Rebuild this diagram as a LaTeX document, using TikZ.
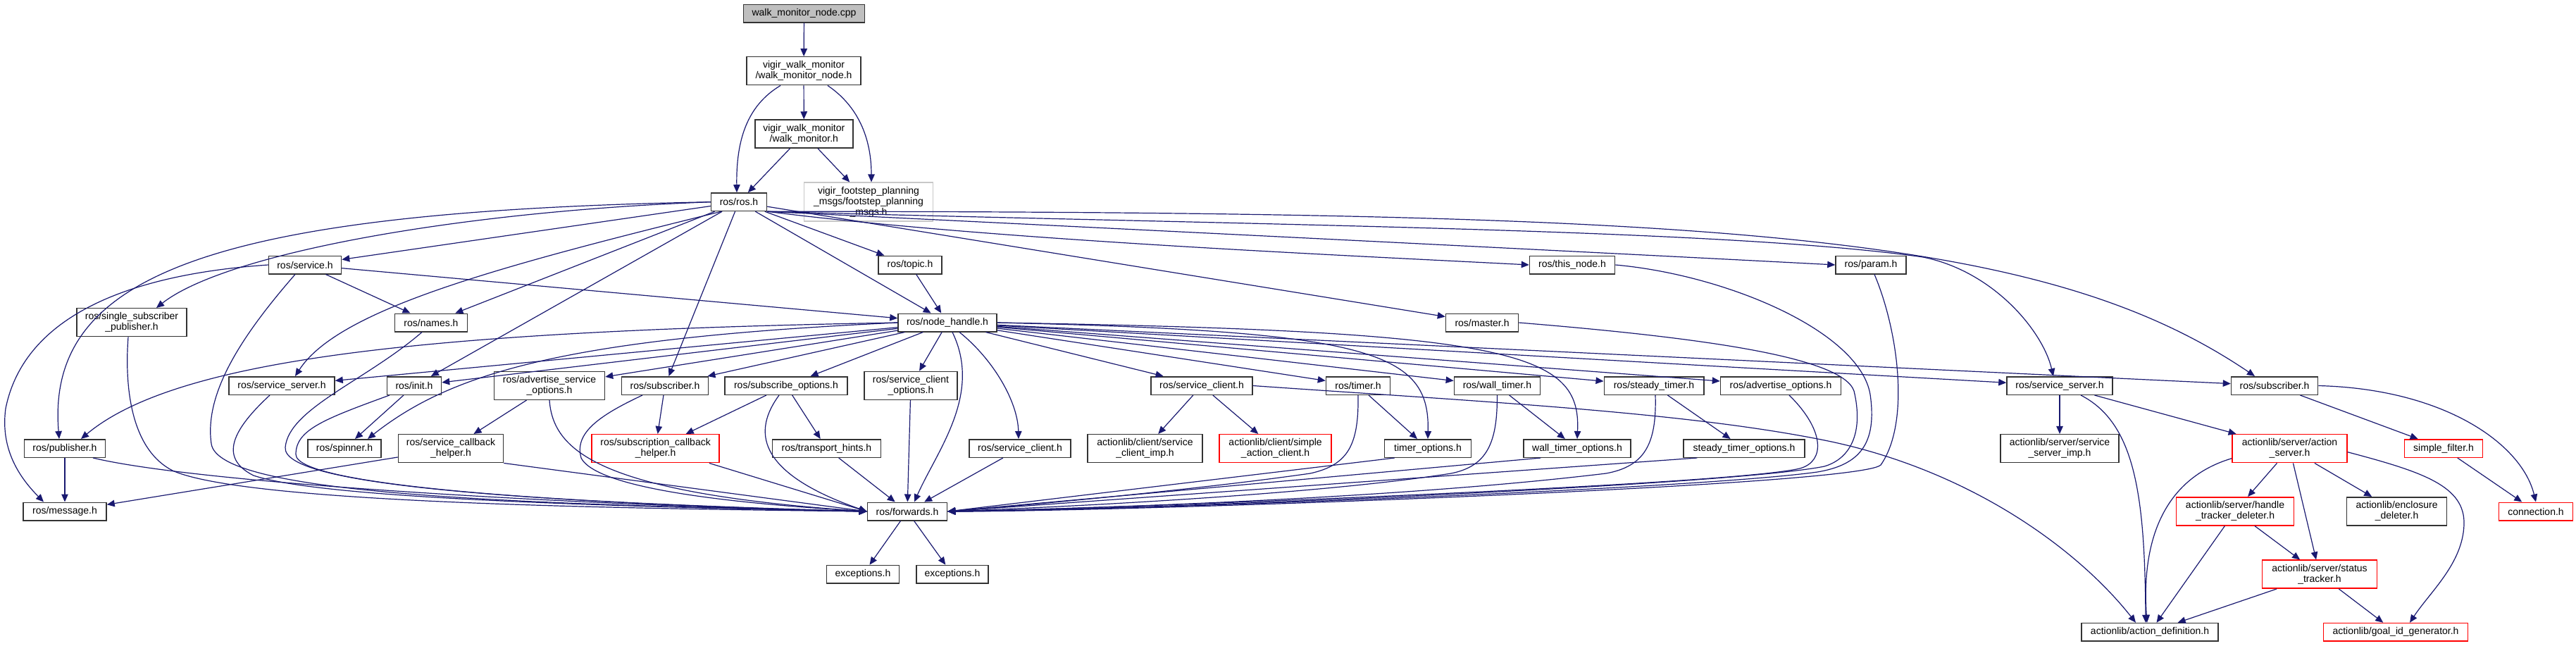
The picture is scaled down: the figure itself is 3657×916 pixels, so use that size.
\documentclass[tikz,border=0pt]{standalone}
\usepackage{fontspec}
\setmainfont{Liberation Sans}
\usepackage{tikz}
\usetikzlibrary{arrows.meta}

\definecolor{edgeblue}{HTML}{191970}
\definecolor{framegray}{HTML}{333333}
\definecolor{rootgray}{HTML}{BFBFBF}
\definecolor{lightframe}{HTML}{C8C8C8}

\begin{document}
\begin{tikzpicture}[x=1pt,y=-1pt,
    every node/.style={rectangle,inner sep=2pt,align=center,
      font=\fontsize{14}{15}\selectfont},
    hfile/.style={draw=framegray,line width=1.5pt,minimum height=25.5pt},
    hfiletwo/.style={hfile,minimum height=40pt},
    redfile/.style={draw=red,line width=1.5pt,minimum height=25.5pt},
    redfiletwo/.style={redfile,minimum height=40pt},
    dep/.style={draw=edgeblue,line width=1.2pt,-{Triangle[length=11pt,width=9.5pt]}}]

  \useasboundingbox (0,0) rectangle (3657,916);

  % top of the graph
  \node[hfile,fill=rootgray,minimum width=172pt] (cpp) at (1141.5,19) {walk\_monitor\_node.cpp};
  \node[hfiletwo,minimum width=162pt] (wmnode) at (1141,100.7) {vigir\_walk\_monitor\\/walk\_monitor\_node.h};
  \node[hfiletwo,minimum width=139pt] (wmon) at (1141.3,190) {vigir\_walk\_monitor\\/walk\_monitor.h};
  \node[hfile,draw=lightframe,minimum width=183pt,minimum height=55pt] (fsmsgs) at (1233,286.7) {vigir\_footstep\_planning\\\_msgs/footstep\_planning\\\_msgs.h};
  \node[hfile,minimum width=79pt] (ros) at (1049,286.7) {ros/ros.h};

  % ros.h level
  \node[hfile,minimum width=103pt] (service) at (433,376) {ros/service.h};
  \node[hfile,minimum width=90pt] (topic) at (1292,376) {ros/topic.h};
  \node[hfile,minimum width=121pt] (thisnode) at (2232,376) {ros/this\_node.h};
  \node[hfile,minimum width=100pt] (param) at (2656,376) {ros/param.h};
  \node[hfiletwo,minimum width=156pt] (single) at (187,457.7) {ros/single\_subscriber\\\_publisher.h};
  \node[hfile,minimum width=103pt] (names) at (612,458) {ros/names.h};
  \node[hfile,minimum width=140pt] (nh) at (1345,458) {ros/node\_handle.h};
  \node[hfile,minimum width=103pt] (master) at (2104,458) {ros/master.h};

  % node_handle.h level
  \node[hfile,minimum width=150pt] (srvserverL) at (400,547.5) {ros/service\_server.h};
  \node[hfile,minimum width=77pt] (init) at (588,547.5) {ros/init.h};
  \node[hfiletwo,minimum width=157pt] (advsrvopt) at (780,547.3) {ros/advertise\_service\\\_options.h};
  \node[hfile,minimum width=123pt] (subL) at (944,547.5) {ros/subscriber.h};
  \node[hfile,minimum width=174pt] (subopt) at (1116,547.5) {ros/subscribe\_options.h};
  \node[hfiletwo,minimum width=132pt] (srvcliopt) at (1293,547.3) {ros/service\_client\\\_options.h};
  \node[hfile,minimum width=144pt] (srvcliU) at (1706,547.5) {ros/service\_client.h};
  \node[hfile,minimum width=91pt] (timer) at (1928,547.5) {ros/timer.h};
  \node[hfile,minimum width=122pt] (walltimer) at (2125.4,547.5) {ros/wall\_timer.h};
  \node[hfile,minimum width=141.5pt] (steadytimer) at (2348,547.5) {ros/steady\_timer.h};
  \node[hfile,minimum width=171pt] (advopt) at (2528,547.5) {ros/advertise\_options.h};
  \node[hfile,minimum width=150pt] (srvserverR) at (2924,547.5) {ros/service\_server.h};
  \node[hfile,minimum width=123pt] (subR) at (3229,547.5) {ros/subscriber.h};

  % helpers and options
  \node[hfile,minimum width=115pt] (publisher) at (92,636.5) {ros/publisher.h};
  \node[hfile,minimum width=104pt] (spinner) at (489,636.5) {ros/spinner.h};
  \node[hfiletwo,minimum width=149pt] (srvcb) at (640,636.7) {ros/service\_callback\\\_helper.h};
  \node[redfiletwo,minimum width=181pt] (subcb) at (930.6,636.7) {ros/subscription\_callback\\\_helper.h};
  \node[hfile,minimum width=154pt] (transport) at (1173.4,636.5) {ros/transport\_hints.h};
  \node[hfile,minimum width=144pt] (srvcliL) at (1448,636.5) {ros/service\_client.h};
  \node[hfiletwo,minimum width=163pt] (srvcliimp) at (1625.5,636.7) {actionlib/client/service\\\_client\_imp.h};
  \node[redfiletwo,minimum width=159pt] (simpleac) at (1810.6,636.7) {actionlib/client/simple\\\_action\_client.h};
  \node[hfile,minimum width=123pt] (timeropt) at (2027,636.5) {timer\_options.h};
  \node[hfile,minimum width=152pt] (walltimeropt) at (2239,636.5) {wall\_timer\_options.h};
  \node[hfile,minimum width=172pt] (steadytimeropt) at (2476,636.5) {steady\_timer\_options.h};
  \node[hfiletwo,minimum width=168pt] (srvserverimp) at (2924,636.7) {actionlib/server/service\\\_server\_imp.h};
  \node[redfiletwo,minimum width=163pt] (actionserver) at (3250.5,636.7) {actionlib/server/action\\\_server.h};
  \node[redfile,minimum width=111pt] (simplefilter) at (3469,636.5) {simple\_filter.h};

  % bottom rows
  \node[hfile,minimum width=118pt] (message) at (92,726) {ros/message.h};
  \node[hfile,minimum width=113pt] (forwards) at (1288,726) {ros/forwards.h};
  \node[redfiletwo,minimum width=167pt] (handletracker) at (3173,725.8) {actionlib/server/handle\\\_tracker\_deleter.h};
  \node[hfiletwo,minimum width=142pt] (enclosure) at (3402.6,725.8) {actionlib/enclosure\\\_deleter.h};
  \node[redfile,minimum width=105pt] (connection) at (3600,726) {connection.h};
  \node[hfile,minimum width=103pt] (excL) at (1225,815.2) {exceptions.h};
  \node[hfile,minimum width=102pt] (excR) at (1352,815.2) {exceptions.h};
  \node[redfiletwo,minimum width=163pt] (statustracker) at (3293,815.2) {actionlib/server/status\\\_tracker.h};
  \node[hfile,minimum width=194pt] (actiondef) at (3052,897.3) {actionlib/action\_definition.h};
  \node[redfile,minimum width=205pt] (goalid) at (3401,897.3) {actionlib/goal\_id\_generator.h};

  % walk monitor includes
  \draw[dep] (cpp) -- (wmnode);
  \draw[dep] (wmnode) -- (wmon);
  \draw[dep] (wmon) -- (ros);
  \draw[dep] (wmon) -- (fsmsgs);
  \draw[dep] ([xshift=-33pt]wmnode.south) .. controls (1060,150) and (1045,200) .. ([xshift=-3pt]ros.north);
  \draw[dep] ([xshift=34pt]wmnode.south) .. controls (1232,160) and (1237,220) .. ([xshift=4pt]fsmsgs.north);

  % ros.h
  \draw[dep] (ros) -- (service);
  \draw[dep] (ros) -- (names);
  \draw[dep] (ros) -- (init);
  \draw[dep] (ros) -- (subL);
  \draw[dep] (ros) -- (nh);
  \draw[dep] (ros) -- (topic);
  \draw[dep] (ros) -- (master);
  \draw[dep] (ros.west) .. controls (650,300) and (320,360) .. ([xshift=35pt]single.north);
  \draw[dep] (ros.west) .. controls (300,300) and (65,390) .. ([xshift=-8pt]publisher.north);
  \draw[dep] ([xshift=-25pt]ros.south) .. controls (700,380) and (480,440) .. ([xshift=19pt]srvserverL.north);
  \draw[dep] (ros.south east) .. controls (1400,340) and (1900,362) .. (thisnode.west);
  \draw[dep] (ros.south east) .. controls (1700,330) and (2300,360) .. (param.west);
  \draw[dep] (ros.south east) .. controls (1800,320) and (2450,325) .. (2730,365) .. controls (2830,385) and (2900,470) .. ([xshift=-9pt]srvserverR.north);
  \draw[dep] (ros.south east) .. controls (2450,300) and (2900,330) .. ([xshift=-28pt]subR.north);

  % service.h and topic.h
  \draw[dep] (topic) -- (nh);
  \draw[dep] (service) -- (names);
  \draw[dep] (service) -- (nh);
  \draw[dep] (service.west) .. controls (250,385) and (40,420) .. (8,580) .. controls (0,640) and (30,680) .. ([xshift=-30pt]message.north);

  % node_handle.h
  \draw[dep] (nh) -- (srvserverL);
  \draw[dep] (nh) -- (init);
  \draw[dep] (nh) -- (advsrvopt);
  \draw[dep] (nh) -- (subL);
  \draw[dep] (nh) -- (subopt);
  \draw[dep] (nh) -- (srvcliopt);
  \draw[dep] (nh) -- (srvcliU);
  \draw[dep] (nh) -- (timer);
  \draw[dep] (nh) -- (walltimer);
  \draw[dep] (nh) -- (steadytimer);
  \draw[dep] (nh) -- (advopt);
  \draw[dep] (nh) -- (srvserverR);
  \draw[dep] (nh) -- (subR);
  \draw[dep] (nh.west) .. controls (600,470) and (250,510) .. ([xshift=23pt]publisher.north);
  \draw[dep] (nh.west) .. controls (800,480) and (640,530) .. ([xshift=33pt]spinner.north);
  \draw[dep] ([xshift=17pt]nh.south) .. controls (1410,510) and (1445,570) .. ([xshift=-2pt]srvcliL.north);
  \draw[dep] (nh.east) .. controls (1950,470) and (2030,500) .. (timeropt.north);
  \draw[dep] (nh.east) .. controls (2150,470) and (2245,500) .. (walltimeropt.north);

  % second level
  \draw[dep] (init) -- (spinner);
  \draw[dep] (advsrvopt) -- (srvcb);
  \draw[dep] (subL) -- (subcb);
  \draw[dep] (subopt) -- (subcb);
  \draw[dep] (subopt) -- (transport);
  \draw[dep] (srvcliU) -- (srvcliimp);
  \draw[dep] (srvcliU) -- (simpleac);
  \draw[dep] (timer) -- (timeropt);
  \draw[dep] (walltimer) -- (walltimeropt);
  \draw[dep] (steadytimer) -- (steadytimeropt);
  \draw[dep] (srvserverR) -- (srvserverimp);
  \draw[dep] (srvserverR) -- (actionserver);
  \draw[dep] (subR) -- (simplefilter);
  \draw[dep] (simplefilter) -- (connection);
  \draw[dep] (publisher) -- (message);
  \draw[dep] (srvcb) -- (message);
  \draw[dep] (srvcliU.east) .. controls (2100,570) and (2400,585) .. (2600,627) .. controls (2800,670) and (2950,780) .. ([xshift=-20pt]actiondef.north);
  \draw[dep] (subR.east) .. controls (3470,552) and (3580,630) .. (connection.north);

  % actionlib server
  \draw[dep] (actionserver) -- (handletracker);
  \draw[dep] (actionserver) -- (statustracker);
  \draw[dep] (actionserver) -- (enclosure);
  \draw[dep] (handletracker) -- (statustracker);
  \draw[dep] (handletracker) -- (actiondef);
  \draw[dep] (statustracker) -- (actiondef);
  \draw[dep] (statustracker) -- (goalid);
  \draw[dep] ([xshift=30pt]srvserverR.south) .. controls (3030,600) and (3045,700) .. ([xshift=-6pt]actiondef.north);
  \draw[dep] ([yshift=-14pt]actionserver.west) .. controls (3070,680) and (3040,770) .. ([xshift=-4pt]actiondef.north);
  \draw[dep] ([yshift=-5pt]actionserver.east) .. controls (3440,670) and (3500,690) .. (3498,745) .. controls (3496,800) and (3450,840) .. ([xshift=20pt]goalid.north);

  % into forwards.h from the left
  \draw[dep] ([xshift=-5pt]single.south) .. controls (176,560) and (190,640) .. (245,668) .. controls (350,715) and (900,722) .. (forwards.west);
  \draw[dep] ([xshift=40pt]publisher.south) .. controls (300,690) and (900,720) .. (forwards.west);
  \draw[dep] ([xshift=-14pt]service.south) .. controls (340,480) and (290,560) .. (300,630) .. controls (310,700) and (700,715) .. (forwards.west);
  \draw[dep] ([xshift=-13pt]names.south) .. controls (520,540) and (410,580) .. (405,635) .. controls (400,690) and (750,712) .. (forwards.west);
  \draw[dep] ([xshift=-17pt]srvserverL.south) .. controls (330,610) and (310,650) .. (360,675) .. controls (450,705) and (800,718) .. (forwards.west);
  \draw[dep] ([xshift=-35pt]init.south) .. controls (460,595) and (420,610) .. (420,645) .. controls (420,690) and (800,715) .. (forwards.west);
  \draw[dep] (advsrvopt.south) .. controls (785,640) and (850,700) .. (forwards.west);
  \draw[dep] ([xshift=-32pt]subL.south) .. controls (850,590) and (815,615) .. (825,650) .. controls (850,700) and (1100,718) .. (forwards.west);
  \draw[dep] ([xshift=-10pt]subopt.south) .. controls (1070,610) and (1070,670) .. (forwards.west);
  \draw[dep] (srvcb.south east) -- (forwards.west);
  \draw[dep] ([xshift=-15pt]subcb.south east) -- (forwards.west);
  \draw[dep] (transport) -- (forwards);
  \draw[dep] (srvcliopt) -- (forwards);
  \draw[dep] ([xshift=7pt]nh.south) .. controls (1395,560) and (1330,640) .. ([xshift=10pt]forwards.north);
  \draw[dep] (srvcliL) -- (forwards);

  % into forwards.h from the right
  \draw[dep] ([xshift=15pt]timeropt.south west) -- (forwards.east);
  \draw[dep] ([xshift=25pt]walltimeropt.south west) -- (forwards.east);
  \draw[dep] ([xshift=20pt]steadytimeropt.south west) -- (forwards.east);
  \draw[dep] (timer.south) .. controls (1929,630) and (1915,660) .. (1860,672) .. controls (1700,695) and (1450,718) .. (forwards.east);
  \draw[dep] (walltimer.south) .. controls (2126,630) and (2110,662) .. (2060,672) .. controls (1850,705) and (1450,722) .. (forwards.east);
  \draw[dep] ([xshift=2pt]steadytimer.south) .. controls (2352,630) and (2335,662) .. (2280,672) .. controls (1950,712) and (1450,724) .. (forwards.east);
  \draw[dep] ([xshift=12pt]advopt.south) .. controls (2590,610) and (2592,655) .. (2555,665) .. controls (2450,690) and (1500,724) .. (forwards.east);
  \draw[dep] (master.east) .. controls (2400,478) and (2615,505) .. (2632,555) .. controls (2645,610) and (2630,650) .. (2590,662) .. controls (2450,690) and (1600,724) .. (forwards.east);
  \draw[dep] (thisnode.east) .. controls (2450,390) and (2640,470) .. (2655,560) .. controls (2665,630) and (2640,660) .. (2580,670) .. controls (2400,695) and (1600,724) .. (forwards.east);
  \draw[dep] ([xshift=5pt]param.south) .. controls (2695,470) and (2712,600) .. (2670,660) .. controls (2640,690) and (1600,726) .. (forwards.east);

  % forwards.h
  \draw[dep] (forwards) -- (excL);
  \draw[dep] (forwards) -- (excR);
\end{tikzpicture}
\end{document}
